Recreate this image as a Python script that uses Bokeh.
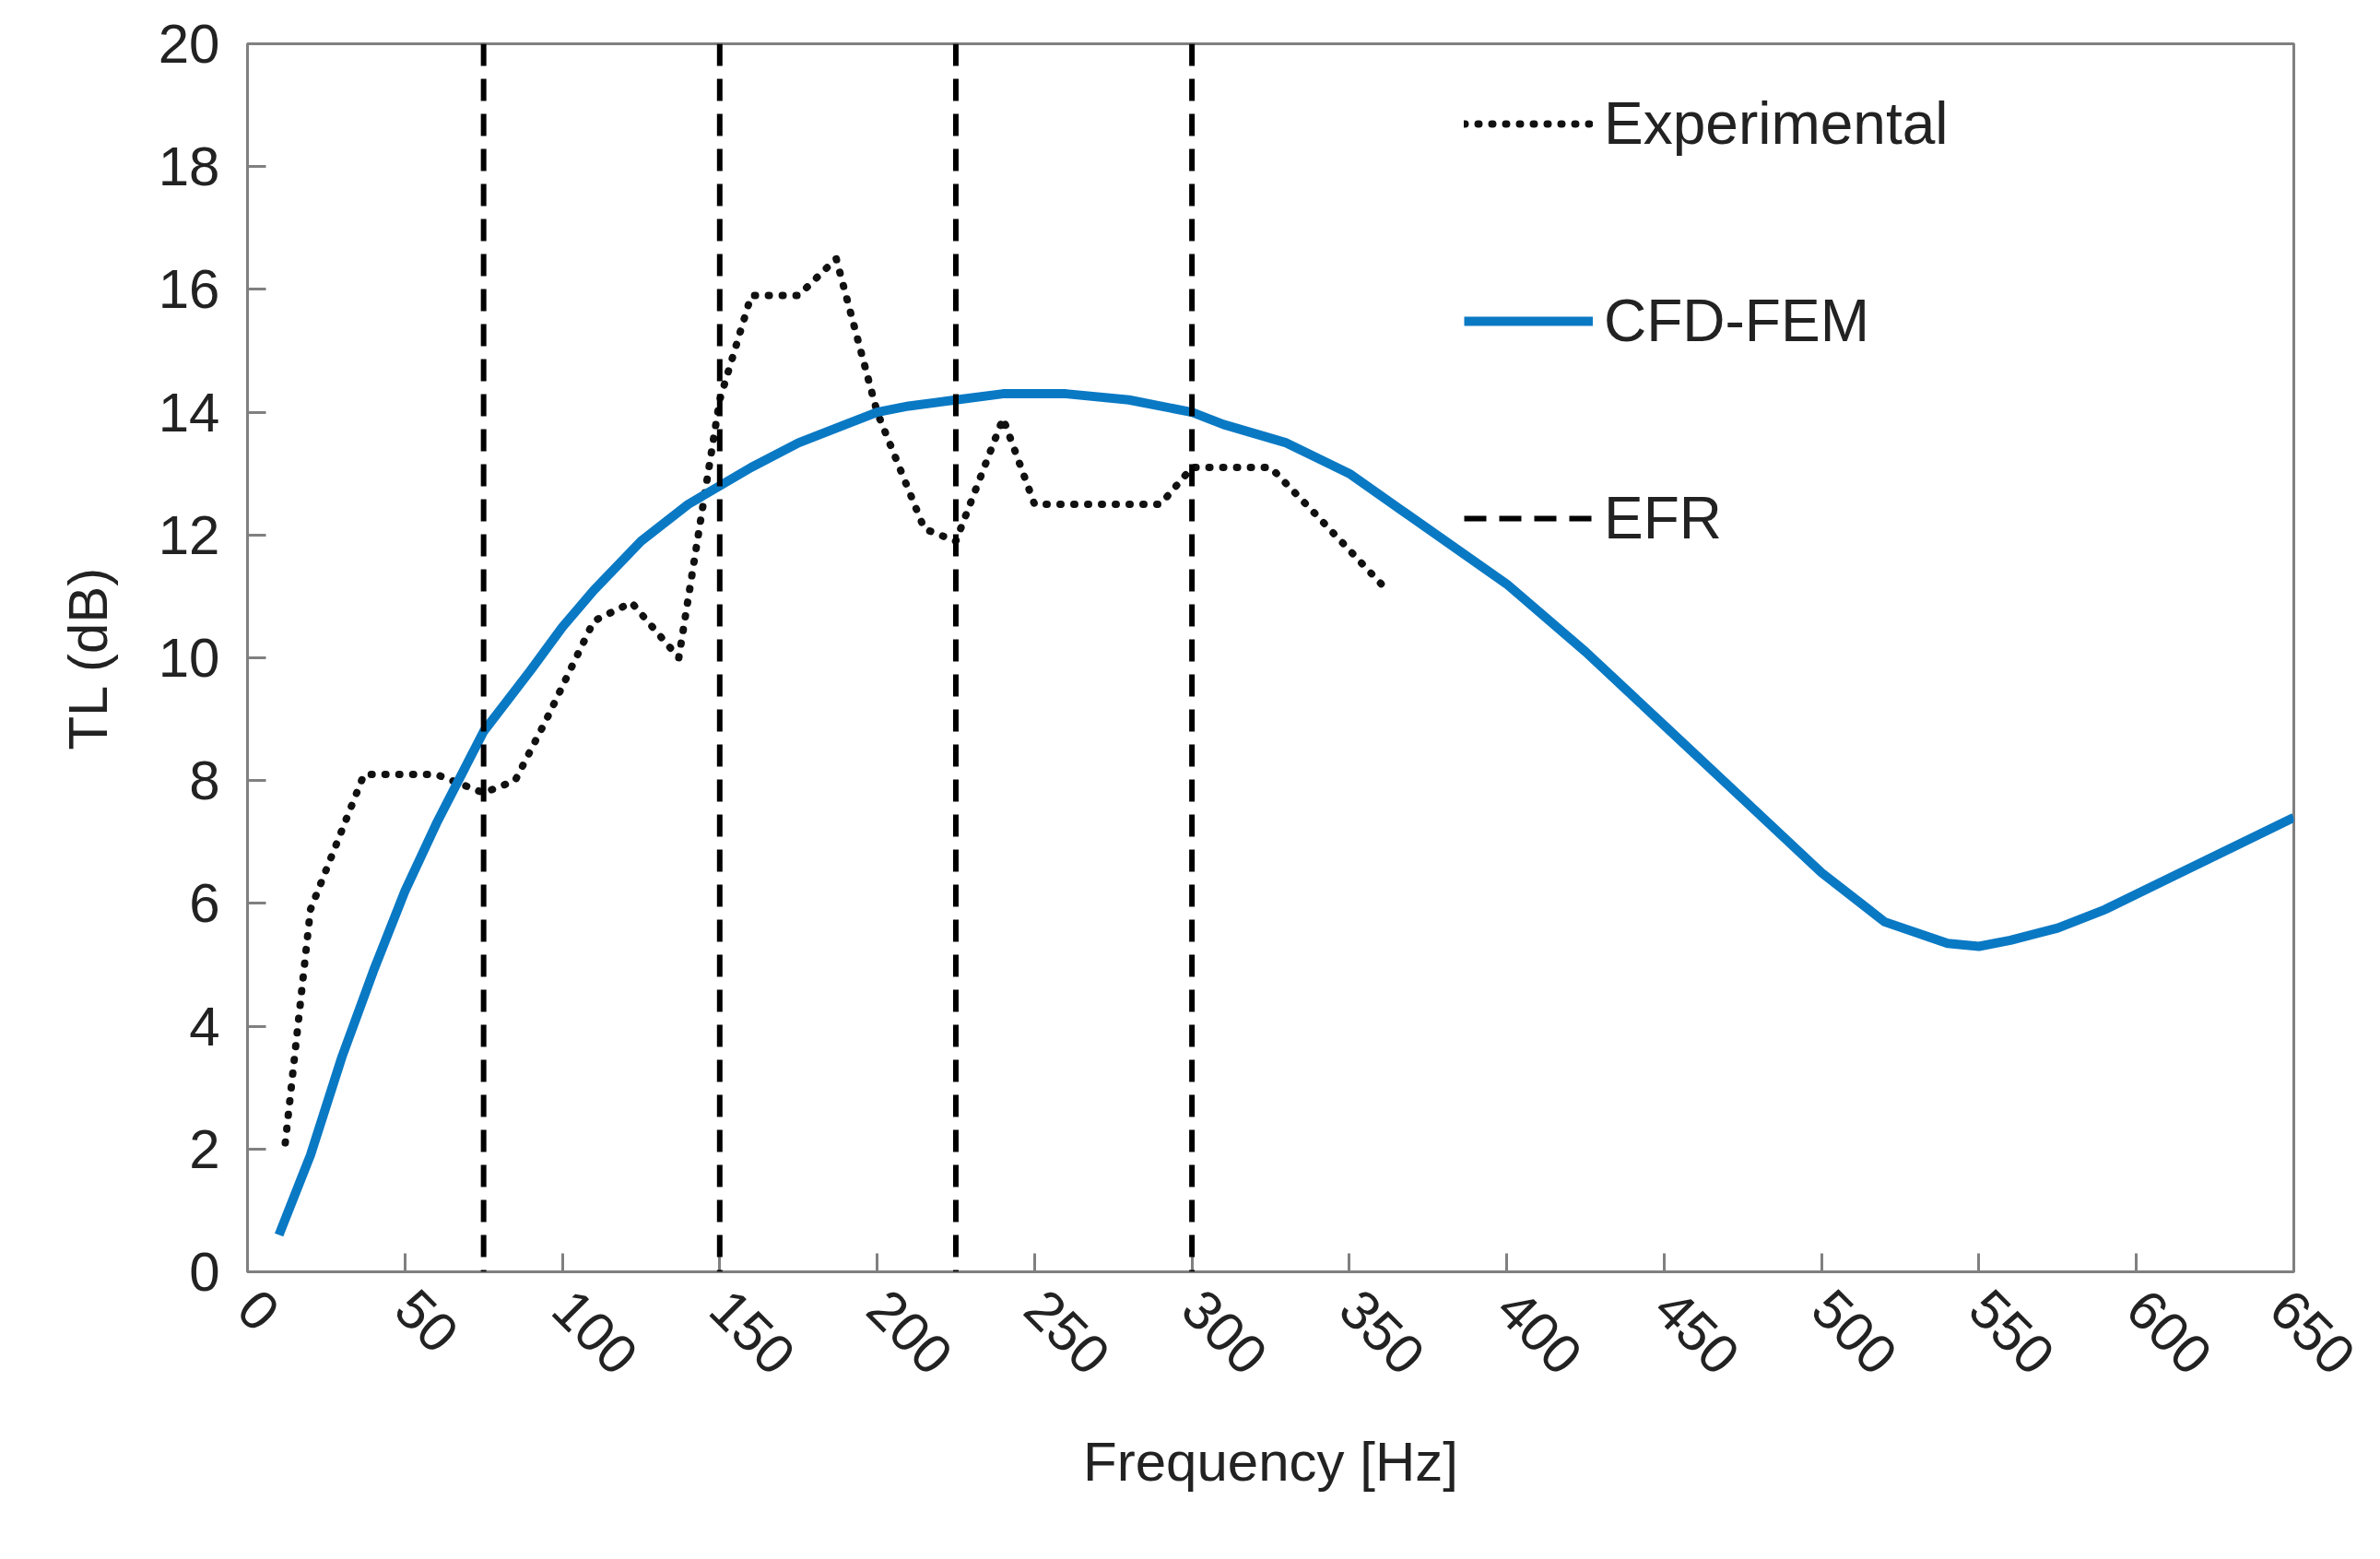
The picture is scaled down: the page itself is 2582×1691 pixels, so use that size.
import math
from bokeh.plotting import figure
from bokeh.models import Range1d, FixedTicker, Span, Legend, LegendItem
from bokeh.embed import file_html
from bokeh.resources import INLINE

exp_f = [12, 20, 37, 60, 75, 85, 95, 110, 122, 137, 150, 160, 175, 187, 200, 215, 225, 240, 250, 270, 290, 300, 325, 340, 362]
exp_tl = [2.1, 5.9, 8.1, 8.1, 7.8, 8.0, 9.0, 10.6, 10.9, 10.0, 14.2, 15.9, 15.9, 16.5, 14.0, 12.1, 11.9, 13.9, 12.5, 12.5, 12.5, 13.1, 13.1, 12.3, 11.1]
cfd_f = [10, 20, 30, 40, 50, 60, 75, 90, 100, 110, 125, 140, 150, 160, 175, 190, 200, 210, 225, 240, 260, 280, 300, 310, 330, 350, 375, 400, 425, 450, 475, 500, 520, 540, 550, 560, 575, 590, 610, 630, 650]
cfd_tl = [0.6, 1.9, 3.5, 4.9, 6.2, 7.3, 8.8, 9.8, 10.5, 11.1, 11.9, 12.5, 12.8, 13.1, 13.5, 13.8, 14.0, 14.1, 14.2, 14.3, 14.3, 14.2, 14.0, 13.8, 13.5, 13.0, 12.1, 11.2, 10.1, 8.9, 7.7, 6.5, 5.7, 5.35, 5.3, 5.4, 5.6, 5.9, 6.4, 6.9, 7.4]
efr_f = [75, 150, 225, 300]
x_ticks = list(range(0, 651, 50))
y_ticks = list(range(0, 21, 2))

FONT = "Liberation Sans"
p = figure(frame_width=2220, frame_height=1332, output_backend="svg", toolbar_location=None,
           x_range=Range1d(0, 650), y_range=Range1d(0, 20),
           min_border_left=268, min_border_top=47, min_border_right=70, min_border_bottom=40,
           background_fill_color="white", border_fill_color="white")
p.grid.visible = False
p.outline_line_color = "#808080"
p.outline_line_width = 3

for ax in (p.xaxis[0], p.yaxis[0]):
    ax.axis_line_color = "#808080"
    ax.axis_line_width = 3
    ax.major_tick_line_color = "#808080"
    ax.major_tick_line_width = 3
    ax.major_tick_in = 20
    ax.major_tick_out = 0
    ax.minor_tick_line_color = None
    ax.major_label_text_font = FONT
    ax.major_label_text_font_size = "60px"
    ax.major_label_text_color = "#222222"
    ax.axis_label_text_font = FONT
    ax.axis_label_text_font_size = "60px"
    ax.axis_label_text_font_style = "normal"
    ax.axis_label_text_color = "#222222"

p.xaxis.ticker = FixedTicker(ticks=x_ticks)
p.yaxis.ticker = FixedTicker(ticks=y_ticks)
p.xaxis.major_label_orientation = -math.pi / 4
p.xaxis.axis_label = "Frequency [Hz]"
p.yaxis.axis_label = "TL (dB)"
p.xaxis.major_label_standoff = 30
p.xaxis.axis_label_standoff = 40
p.yaxis.major_label_standoff = 30
p.yaxis.axis_label_standoff = 40

for f in efr_f:
    p.add_layout(Span(location=f, dimension="height", line_color="black", line_width=6, line_dash="24 14"))

r_exp = p.line(exp_f, exp_tl, line_color="#111111", line_width=8, line_dash="1 14", line_cap="round")
r_cfd = p.line(cfd_f, cfd_tl, line_color="#0a79c4", line_width=10, line_join="round")
r_efr_leg = p.line([-100, -99], [-100, -99], line_color="black", line_width=6, line_dash="24 14")

legend = Legend(items=[LegendItem(label="Experimental", renderers=[r_exp]),
                       LegendItem(label="CFD-FEM", renderers=[r_cfd]),
                       LegendItem(label="EFR", renderers=[r_efr_leg])],
                location=(1320, 780), spacing=140, glyph_width=140, glyph_height=50,
                label_text_font=FONT, label_text_font_size="64px", label_text_color="#222222",
                border_line_color=None, background_fill_alpha=0, label_standoff=12)
p.add_layout(legend)

open("out.html", "w").write(file_html(p, INLINE))
